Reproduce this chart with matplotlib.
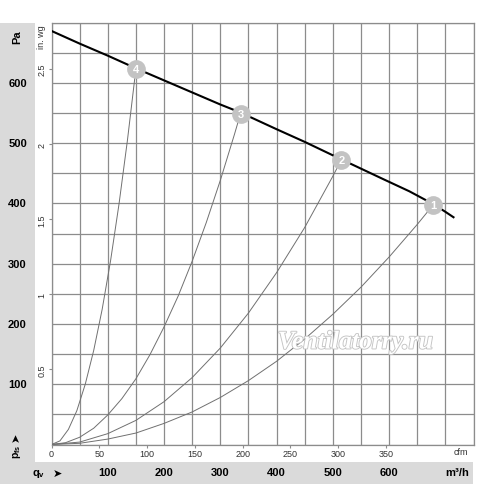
import matplotlib
matplotlib.use('Agg')
from matplotlib import pyplot as plt
from matplotlib import transforms
from matplotlib.patches import Rectangle
import matplotlib.patheffects as pe
import numpy as np

plt.rcParams['font.family'] = ['Liberation Sans', 'DejaVu Sans']

# fan curve (m3/h, Pa)
fan_q = [0, 50, 100, 150, 200, 250, 300, 335, 400, 450, 515, 590, 636, 678, 700, 716]
fan_p = [686, 665, 645, 624, 604, 584, 564, 551, 523, 502, 473, 440, 420, 399, 386, 376]

# system curves 1..4
sys1_q = [0, 50, 100, 150, 200, 250, 300, 350, 400, 450, 500, 550, 600, 650, 678]
sys1_p = [0, 2, 9, 19, 35, 54, 78, 106, 138, 175, 216, 261, 311, 365, 397]
sys2_q = [0, 50, 100, 150, 200, 250, 300, 350, 400, 450, 500, 515]
sys2_p = [0, 4, 18, 40, 71, 111, 160, 218, 285, 360, 445, 472]
sys3_q = [0, 25, 50, 75, 100, 125, 150, 175, 200, 225, 250, 275, 300, 325, 336]
sys3_p = [0, 3, 12, 27, 49, 76, 109, 149, 195, 246, 304, 368, 438, 514, 549]
sys4_q = [0, 15, 30, 45, 60, 75, 90, 105, 120, 135, 150]
sys4_p = [0, 6, 25, 56, 100, 156, 224, 305, 399, 505, 623]

# operating points
op_labels = ['1', '2', '3', '4']
op_q = [678, 515, 336, 150]
op_p = [397, 472, 549, 623]

pa_ticks = [100, 200, 300, 400, 500, 600]
m3h_ticks = [100, 200, 300, 400, 500, 600]
inwg_ticks = [0.5, 1, 1.5, 2, 2.5]
cfm_ticks = [0, 50, 100, 150, 200, 250, 300, 350]

PA_PER_INWG = 249.09
M3H_PER_CFM = 1.699

W, H = 500, 485
fig = plt.figure(figsize=(W / 100, H / 100), dpi=100)

band = '#dadada'
fig.patches.append(Rectangle((0, 0), 35 / W, (H - 23.5) / H, transform=fig.transFigure,
                             facecolor=band, edgecolor='none', zorder=-5))
fig.patches.append(Rectangle((0, 0), 473 / W, 22 / H, transform=fig.transFigure,
                             facecolor=band, edgecolor='none', zorder=-5))

left, right, top, bottom = 51.5, 473.5, 23.5, 445.5
ax = fig.add_axes([left / W, (H - bottom) / H, (right - left) / W, (bottom - top) / H])
ax.set_xlim(0, 750)
ax.set_ylim(0, 700)
ax.set_xticks(np.arange(0, 751, 50))
ax.set_yticks(np.arange(0, 701, 50))
ax.tick_params(length=0, labelbottom=False, labelleft=False)
ax.grid(True, color='#8c8c8c', lw=0.9)
for s in ax.spines.values():
    s.set_color('#8c8c8c')
    s.set_linewidth(0.9)

for q, p in [(sys1_q, sys1_p), (sys2_q, sys2_p), (sys3_q, sys3_p), (sys4_q, sys4_p)]:
    ax.plot(q, p, color='#707070', lw=0.7, zorder=3)
ax.plot(fan_q, fan_p, color='black', lw=1.5, zorder=4, solid_capstyle='butt')

ax.plot(op_q, op_p, 'o', ms=13.5, color='#c3c3c3', mec='none', zorder=5)
for lab, q, p in zip(op_labels, op_q, op_p):
    ax.text(q, p, lab, color='white', fontsize=8, fontweight='bold',
            ha='center', va='center', zorder=6)

# watermark (white fill, grey outline, drawn over the grid)
ax.text(540, 170, 'Ventilatorry.ru', family='Liberation Serif', style='italic',
        fontweight='bold', fontsize=18.5, color='white', ha='center', va='center',
        zorder=5, path_effects=[pe.Stroke(linewidth=1.3, foreground='#c4c4c4'), pe.Normal()])

# secondary scales
sy = ax.secondary_yaxis('left', functions=(lambda p: p / PA_PER_INWG,
                                           lambda w: w * PA_PER_INWG))
sy.set_yticks(inwg_ticks)
sy.set_yticklabels([('%g' % v) for v in inwg_ticks], rotation=90, va='center')
sy.tick_params(length=2.5, width=0.8, color='#8c8c8c', labelsize=6.5, pad=1,
               labelcolor='#333333')
sy.spines['left'].set_visible(False)

sx = ax.secondary_xaxis('bottom', functions=(lambda q: q / M3H_PER_CFM,
                                             lambda c: c * M3H_PER_CFM))
sx.set_xticks(cfm_ticks)
sx.tick_params(length=2.5, width=0.8, color='#8c8c8c', labelsize=6.5, pad=1,
               labelcolor='#333333')
sx.spines['bottom'].set_visible(False)

fig.text(461 / W, (H - 453) / H, 'cfm', fontsize=6.5, color='#333333', ha='center', va='center')
fig.text(42 / W, (H - 37) / H, 'in. wg', fontsize=6.5, color='#333333', rotation=90,
         ha='center', va='center')

# Pa labels in left band
ty = transforms.blended_transform_factory(fig.transFigure, ax.transData)
for v in pa_ticks:
    ax.text(17.5 / W, v, str(v), transform=ty, fontsize=8, fontweight='bold',
            ha='center', va='center', clip_on=False)
fig.text(17 / W, (H - 37) / H, 'Pa', fontsize=8, fontweight='bold', rotation=90,
         ha='center', va='center')
fig.text(17 / W, (H - 452) / H, 'p$_\\mathregular{fs}$', fontsize=7.5, fontweight='bold',
         rotation=90, ha='center', va='center')
fig.text(16 / W, (H - 437) / H, '\u27a4', fontsize=8, rotation=90,
         ha='center', va='center')

# m3/h labels in bottom band
tx = transforms.blended_transform_factory(ax.transData, fig.transFigure)
for v in m3h_ticks:
    ax.text(v, (H - 473.5) / H, str(v), transform=tx, fontsize=8, fontweight='bold',
            ha='center', va='center', clip_on=False)
fig.text(457 / W, (H - 473.5) / H, 'm\u00b3/h', fontsize=8, fontweight='bold',
         ha='center', va='center')
fig.text(39 / W, (H - 474) / H, 'q$_\\mathregular{v}$', fontsize=8, fontweight='bold',
         ha='center', va='center')
fig.text(57 / W, (H - 473.5) / H, '\u27a4', fontsize=8, ha='center', va='center')

fig.savefig('out.png', dpi=100)
